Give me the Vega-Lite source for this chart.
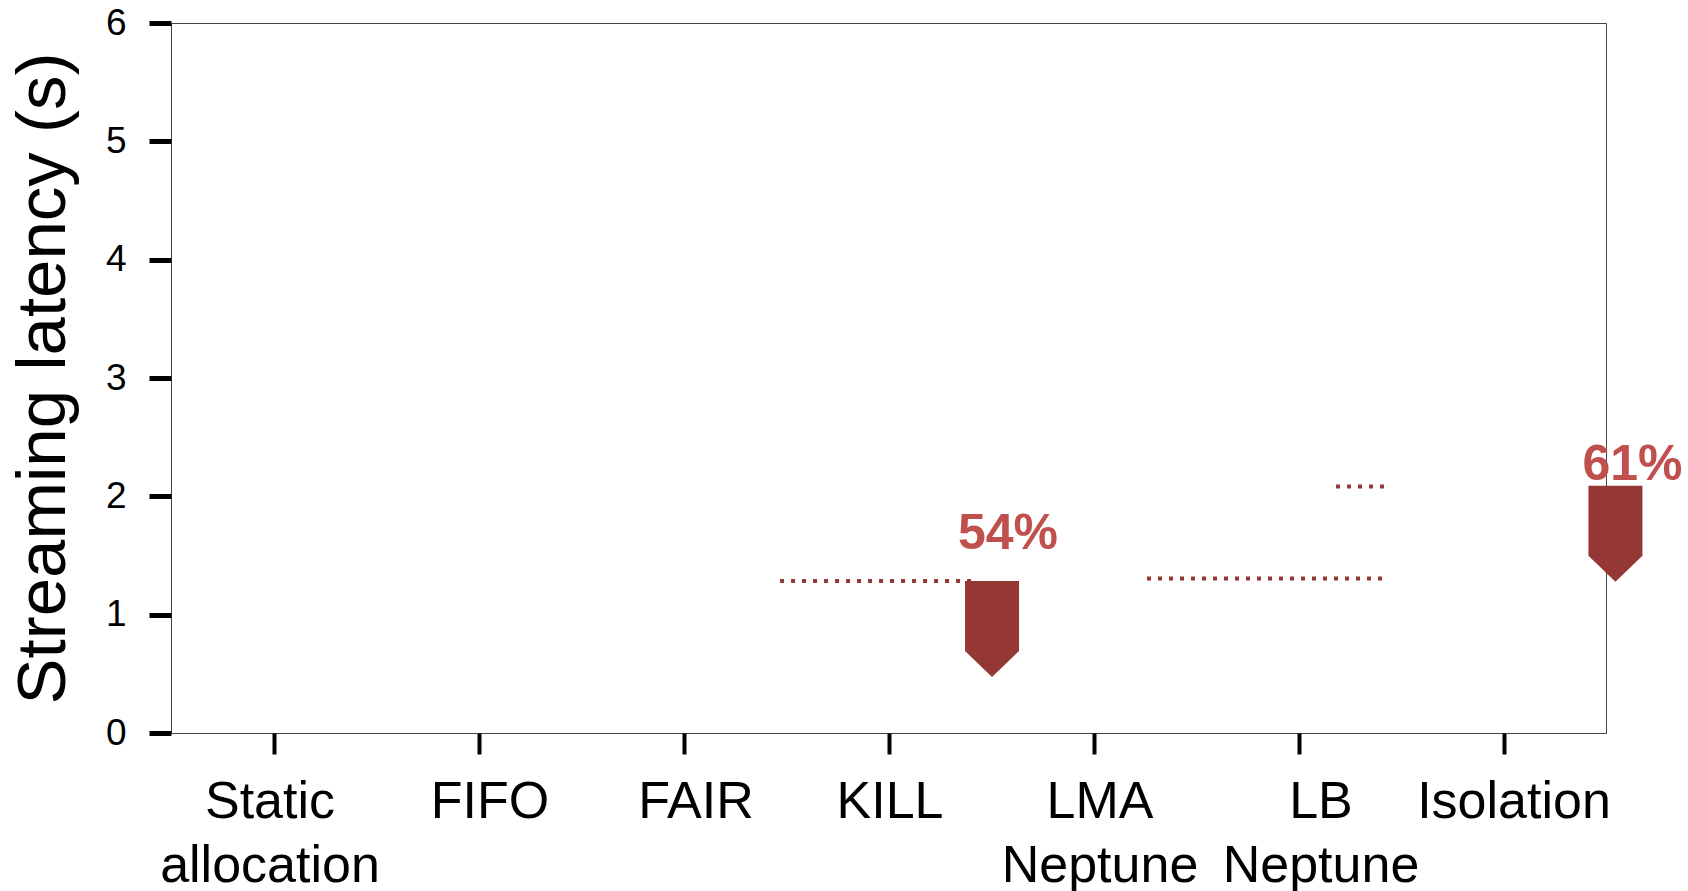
{
  "$schema": "https://vega.github.io/schema/vega-lite/v6.json",
  "autosize": {"type": "none"},
  "padding": {"left": 171, "top": 23, "right": 82, "bottom": 158},
  "width": 1435,
  "height": 710,
  "background": "white",
  "config": {
    "font": "Liberation Sans",
    "view": {"stroke": "#444444", "strokeWidth": 1}
  },
  "datasets": {
    "baselines": [
      {"x": 2.471, "x2": 3.432, "latency": 1.285},
      {"x": 4.261, "x2": 5.427, "latency": 1.305},
      {"x": 5.183, "x2": 5.417, "latency": 2.083}
    ],
    "arrows": [
      {"x": 3.505, "latency": 1.285},
      {"x": 6.546, "latency": 2.09}
    ],
    "labels": [
      {"x": 3.583, "latency": 1.555, "label": "54%"},
      {"x": 6.629, "latency": 2.138, "label": "61%"}
    ]
  },
  "layer": [
    {
      "data": {"name": "baselines"},
      "mark": {"type": "rule", "color": "#953735", "strokeWidth": 4, "strokeDash": [4, 7], "strokeCap": "butt"},
      "encoding": {
        "x": {
          "field": "x", "type": "quantitative",
          "scale": {"domain": [-0.5, 6.5], "nice": false, "zero": false},
          "axis": {
            "values": [0, 1, 2, 3, 4, 5, 6],
            "title": null,
            "grid": false,
            "domain": false,
            "tickSize": 21,
            "tickWidth": 4,
            "tickColor": "black",
            "labelFontSize": 52,
            "labelColor": "black",
            "labelPadding": 22,
            "labelLineHeight": 64,
            "labelLimit": 0,
            "labelFlush": false,
            "labelOverlap": false,
            "labelOffset": {
              "condition": [
                {"test": "datum.value == 0", "value": -4},
                {"test": "datum.value == 1", "value": 11},
                {"test": "datum.value == 2", "value": 12},
                {"test": "datum.value == 4", "value": 6},
                {"test": "datum.value == 5", "value": 22},
                {"test": "datum.value == 6", "value": 10}
              ],
              "value": 1
            },
            "labelExpr": "[['Static','allocation'],['FIFO'],['FAIR'],['KILL'],['LMA','Neptune'],['LB','Neptune'],['Isolation']][datum.value]"
          }
        },
        "x2": {"field": "x2"},
        "y": {
          "field": "latency", "type": "quantitative",
          "scale": {"domain": [0, 6], "nice": false},
          "axis": {
            "values": [0, 1, 2, 3, 4, 5, 6],
            "format": "d",
            "title": "Streaming latency (s)",
            "titleFontSize": 69,
            "titleFontWeight": "normal",
            "titleColor": "black",
            "titlePadding": 27,
            "grid": false,
            "domain": false,
            "tickSize": 22,
            "tickWidth": 5,
            "tickColor": "black",
            "labelFontSize": 37,
            "labelColor": "black",
            "labelPadding": 23,
            "labelFlush": false,
            "labelOverlap": false
          }
        }
      }
    },
    {
      "data": {"name": "arrows"},
      "mark": {
        "type": "point",
        "filled": true,
        "opacity": 1,
        "strokeWidth": 0,
        "size": 10000,
        "color": "#953735",
        "shape": "M-0.54,0L0.54,0L0.54,1.4L0,1.92L-0.54,1.4Z"
      },
      "encoding": {
        "x": {"field": "x", "type": "quantitative"},
        "y": {"field": "latency", "type": "quantitative"}
      }
    },
    {
      "data": {"name": "labels"},
      "mark": {"type": "text", "fontSize": 50, "fontWeight": "bold", "color": "#C0504D", "align": "center", "baseline": "alphabetic"},
      "encoding": {
        "x": {"field": "x", "type": "quantitative"},
        "y": {"field": "latency", "type": "quantitative"},
        "text": {"field": "label"}
      }
    }
  ]
}
